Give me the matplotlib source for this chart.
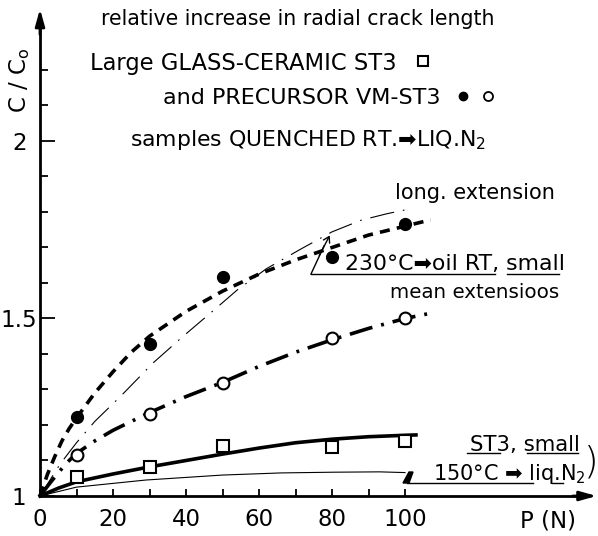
import matplotlib
matplotlib.use("Agg")
import matplotlib.pyplot as plt
from matplotlib.lines import Line2D
from matplotlib.patches import FancyArrowPatch, Polygon

plt.rcParams['font.family'] = ['DejaVu Sans']

# ---------------- data ----------------
load_pts = [10, 30, 50, 80, 100]
glass_ceramic_sq = [1.054, 1.082, 1.141, 1.138, 1.155]
precursor_230_filled = [1.223, 1.428, 1.617, 1.673, 1.766]
precursor_230_open = [1.115, 1.231, 1.318, 1.445, 1.501]

dashed_x = [0, 2, 4, 6, 8, 10, 15, 20, 25, 30, 40, 50, 60, 70, 80, 90, 100, 107]
dashed_y = [1.0, 1.06, 1.11, 1.155, 1.19, 1.22, 1.29, 1.35, 1.405, 1.45, 1.52, 1.577, 1.625, 1.665, 1.70, 1.735, 1.76, 1.778]

longext_x = [0, 5.5, 10, 15, 22, 31, 39, 47, 54, 62, 71, 80, 88, 95, 101]
longext_y = [1.0, 1.09, 1.15, 1.21, 1.28, 1.375, 1.448, 1.518, 1.58, 1.64, 1.693, 1.744, 1.777, 1.795, 1.808]

dashdot_x = [0, 3, 7, 10, 15, 20, 30, 40, 50, 60, 70, 80, 90, 100, 108]
dashdot_y = [1.0, 1.04, 1.09, 1.12, 1.155, 1.185, 1.235, 1.28, 1.32, 1.365, 1.405, 1.44, 1.472, 1.50, 1.517]

solid_x = [0, 5, 10, 20, 30, 40, 50, 60, 70, 80, 90, 100, 103]
solid_y = [1.0, 1.022, 1.04, 1.062, 1.082, 1.10, 1.118, 1.135, 1.150, 1.160, 1.167, 1.171, 1.172]

thin_x = [0, 10, 29, 50, 66, 80, 93, 100]
thin_y = [1.0, 1.025, 1.045, 1.059, 1.065, 1.067, 1.068, 1.066]

xticks_major = [0, 20, 40, 60, 80, 100]
xticks_minor = [10, 30, 50, 70, 90]
yticks_major = [1, 1.5, 2]
yticks_minor = [1.1, 1.2, 1.3, 1.4, 1.6, 1.7, 1.8, 1.9, 2.1, 2.2]

# ---------------- figure ----------------
W, H = 598, 536
fig = plt.figure(figsize=(W / 100, H / 100), dpi=100)
ax = fig.add_axes([0, 0, 1, 1])
X0, SX = 40.0, 3.65
Y0, SY = 496.0, 355.0
ax.set_xlim(-X0 / SX, (W - X0) / SX)
ax.set_ylim(1 - (H - Y0) / SY, 1 + Y0 / SY)
ax.patch.set_alpha(0)

def fp(px, py):
    return (px / W, 1 - py / H)

k = 'black'
ax.plot(dashed_x, dashed_y, color=k, lw=2.6, dashes=(2.8, 2.0), solid_capstyle='butt')
ax.plot(longext_x, longext_y, color=k, lw=0.8, dashes=(22, 8, 1.5, 8))
ax.plot(dashdot_x, dashdot_y, color=k, lw=2.6, dashes=(6.5, 2.5, 0.8, 2.5))
ax.plot(solid_x, solid_y, color=k, lw=2.6)
ax.plot(thin_x, thin_y, color=k, lw=0.8)

ax.plot(load_pts, glass_ceramic_sq, ls='none', marker='s', ms=9, mfc='white', mec=k, mew=1.5, zorder=5)
ax.plot(load_pts, precursor_230_filled, ls='none', marker='o', ms=8.5, mfc=k, mec=k, zorder=5)
ax.plot(load_pts, precursor_230_open, ls='none', marker='o', ms=8.5, mfc='white', mec=k, mew=1.5, zorder=5)

for s in ['top', 'right']:
    ax.spines[s].set_visible(False)
ax.spines['left'].set_position(('data', 0))
ax.spines['bottom'].set_position(('data', 1))
ax.spines['left'].set_bounds(1, 2.33)
ax.spines['bottom'].set_bounds(0, 149)
ax.spines['left'].set_linewidth(2.0)
ax.spines['bottom'].set_linewidth(2.0)
ax.annotate('', xy=(0, 2.372), xytext=(0, 2.30),
            arrowprops=dict(arrowstyle='-|>,head_length=1.0,head_width=0.28', lw=2, color=k,
                            shrinkA=0, shrinkB=0))
ax.annotate('', xy=(152.5, 1), xytext=(146, 1),
            arrowprops=dict(arrowstyle='-|>,head_length=1.0,head_width=0.28', lw=2, color=k,
                            shrinkA=0, shrinkB=0))

tfs = 16.5
ax.set_xticks(xticks_major)
ax.set_xticks(xticks_minor, minor=True)
ax.set_yticks(yticks_major)
ax.set_yticks(yticks_minor, minor=True)
ax.set_xticklabels([str(v) for v in xticks_major])
ax.set_yticklabels(['1', '1.5', '2'])
ax.tick_params(axis='x', which='both', direction='in', length=5, width=1.3, pad=9, labelsize=tfs)
ax.tick_params(axis='y', which='major', direction='in', length=11, width=1.3, pad=15, labelsize=tfs)
ax.tick_params(axis='y', which='minor', direction='in', length=6, width=1.3)
for lab in ax.get_yticklabels():
    lab.set_ha('center')

fig.text(*fp(20, 80), r'C / C$_\mathrm{o}$', rotation=90, ha='center', va='center', fontsize=tfs)
fig.text(*fp(548, 521), 'P (N)', ha='center', va='center', fontsize=tfs)

def T(px, py, s, size, ha='left'):
    fig.text(*fp(px, py), s, ha=ha, va='baseline', fontsize=size)

T(298, 25, 'relative increase in radial crack length', 14.8, ha='center')
T(90, 70, 'Large GLASS-CERAMIC ST3', 16.3)
T(163, 104, 'and PRECURSOR VM-ST3', 16)
T(130, 146, 'samples QUENCHED RT.\u27a1LIQ.N$_2$', 15.8)
fig.add_artist(Line2D([fp(423, 61)[0]], [fp(423, 61)[1]], marker='s', ms=7, mfc='white', mec=k, mew=1.5))
fig.add_artist(Line2D([fp(463, 96)[0]], [fp(463, 96)[1]], marker='o', ms=6, mfc=k, mec=k))
fig.add_artist(Line2D([fp(488, 96)[0]], [fp(488, 96)[1]], marker='o', ms=6.5, mfc='white', mec=k, mew=1.3))

T(395, 199, 'long. extension', 15)
T(345, 270, '230\u00b0C\u27a1oil RT, small', 15.8)
T(390, 298, 'mean extensioos', 14.3)
T(470, 451, 'ST3, small', 15.3)
T(433, 480, '150\u00b0C \u27a1 liq.N$_2$', 15)

def seg(p, q, lw=1.0):
    a, b = fp(*p), fp(*q)
    fig.add_artist(Line2D([a[0], b[0]], [a[1], b[1]], color=k, lw=lw))

seg((311, 274), (495, 274))
seg((507, 274), (559, 274))
seg((467, 453), (500, 453))
seg((527, 453), (578, 453))
seg((407, 483), (533, 483))
seg((552, 483), (563, 483))
seg((311, 274), (324, 246))
fig.add_artist(FancyArrowPatch(fp(318, 258), fp(331, 233), transform=fig.transFigure,
               arrowstyle='->,head_length=4,head_width=2.5', lw=1.0, color=k))
fig.add_artist(Polygon([fp(403, 483), fp(409, 472), fp(413, 472), fp(409, 483)],
               closed=True, transform=fig.transFigure, color=k))
fig.text(*fp(591, 462), ')', ha='center', va='center', fontsize=27, fontweight='light')

fig.savefig('out.png', dpi=100)
